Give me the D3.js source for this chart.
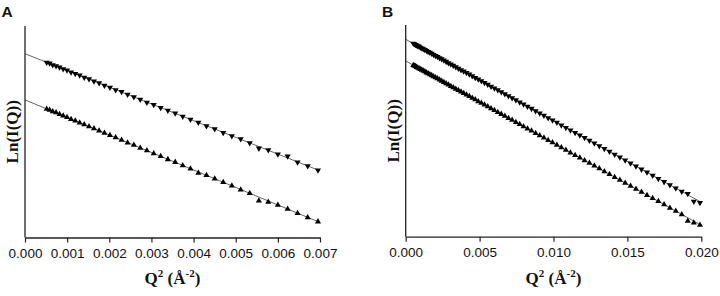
<!DOCTYPE html>
<html>
<head>
<meta charset="utf-8">
<script src="https://cdn.jsdelivr.net/npm/d3@7"></script>
<style>
  html, body { margin: 0; padding: 0; background: #fff; }
  svg { display: block; }
</style>
</head>
<body>
<svg id="chart" width="720" height="296"></svg>
<script>
// Q^2 values (Å^-2) of the measured points
const q2 = [0.000515, 0.000585, 0.000658, 0.000737, 0.000819, 0.000906, 0.000997, 0.001093, 0.001193, 0.001297,
  0.001406, 0.001519, 0.001637, 0.001759, 0.001885, 0.002016, 0.002151, 0.002291, 0.002434, 0.002583,
  0.002735, 0.002892, 0.003054, 0.003219, 0.003390, 0.003564, 0.003743, 0.003926, 0.004114, 0.004306,
  0.004502, 0.004703, 0.004908, 0.005118, 0.005332, 0.005550, 0.005773, 0.006000, 0.006232, 0.006467,
  0.006708, 0.006952, 0.007201, 0.007455, 0.007712, 0.007974, 0.008241, 0.008512, 0.008787, 0.009067,
  0.009351, 0.009639, 0.009932, 0.010229, 0.010531, 0.010837, 0.011147, 0.011462, 0.011781, 0.012104,
  0.012432, 0.012764, 0.013101, 0.013442, 0.013788, 0.014137, 0.014491, 0.014850, 0.015213, 0.015580,
  0.015952, 0.016328, 0.016708, 0.017093, 0.017482, 0.017876, 0.018274, 0.018676, 0.019083, 0.019494,
  0.019909];

// Panel A: Ln(I(Q)) (arbitrary offset units), first 42 points
const lnA_upper = [8.27, 8.23, 8.15, 8.10, 8.04, 7.96, 7.90, 7.81, 7.74, 7.66,
  7.56, 7.49, 7.38, 7.30, 7.18, 7.09, 6.97, 6.88, 6.75, 6.64,
  6.52, 6.38, 6.27, 6.13, 6.00, 5.87, 5.72, 5.57, 5.43, 5.27,
  5.13, 4.95, 4.80, 4.65, 4.46, 4.21, 4.13, 3.93, 3.84, 3.56,
  3.38, 3.18];
const lnA_lower = [6.07, 6.02, 5.95, 5.90, 5.82, 5.75, 5.68, 5.59, 5.52, 5.42,
  5.34, 5.24, 5.15, 5.04, 4.94, 4.83, 4.72, 4.61, 4.48, 4.37,
  4.23, 4.11, 3.97, 3.84, 3.69, 3.56, 3.40, 3.25, 3.05, 2.94,
  2.77, 2.61, 2.44, 2.26, 2.09, 1.74, 1.68, 1.53, 1.35, 1.15,
  0.95, 0.75];

// Panel B: Ln(I(Q)), all 81 points
const lnB_upper = [9.13, 9.10, 9.07, 9.04, 9.01, 8.98, 8.94, 8.90, 8.87, 8.83,
  8.78, 8.74, 8.70, 8.65, 8.60, 8.55, 8.50, 8.44, 8.39, 8.33,
  8.27, 8.21, 8.15, 8.09, 8.02, 7.95, 7.88, 7.81, 7.74, 7.67,
  7.59, 7.51, 7.44, 7.35, 7.27, 7.19, 7.10, 7.01, 6.93, 6.83,
  6.74, 6.65, 6.55, 6.46, 6.35, 6.26, 6.15, 6.05, 5.94, 5.83,
  5.73, 5.61, 5.50, 5.39, 5.27, 5.15, 5.03, 4.91, 4.79, 4.67,
  4.54, 4.41, 4.28, 4.15, 4.02, 3.88, 3.75, 3.61, 3.47, 3.33,
  3.18, 3.04, 2.89, 2.74, 2.59, 2.44, 2.29, 2.13, 2.03, 1.66,
  1.60];
const lnB_lower = [8.10, 8.07, 8.05, 8.01, 7.98, 7.95, 7.91, 7.88, 7.84, 7.80,
  7.75, 7.71, 7.66, 7.62, 7.57, 7.52, 7.47, 7.41, 7.36, 7.30,
  7.24, 7.18, 7.11, 7.05, 6.98, 6.92, 6.85, 6.78, 6.70, 6.63,
  6.55, 6.48, 6.39, 6.31, 6.23, 6.15, 6.06, 5.97, 5.88, 5.79,
  5.70, 5.60, 5.51, 5.41, 5.31, 5.21, 5.10, 5.00, 4.89, 4.78,
  4.67, 4.56, 4.45, 4.33, 4.21, 4.10, 3.97, 3.85, 3.73, 3.60,
  3.48, 3.35, 3.22, 3.08, 2.95, 2.81, 2.68, 2.54, 2.40, 2.25,
  2.11, 1.96, 1.82, 1.67, 1.52, 1.36, 1.21, 1.05, 0.74, 0.66,
  0.55];

// Guinier fit lines: intercepts and slopes
const fitIntercepts = { A_upper: 8.68, A_lower: 6.50, B_upper: 9.325, B_lower: 8.30 };
const fitSlopes = { A_upper: -790, A_lower: -827, B_upper: -385, B_lower: -388 };

// Tick values
const ticksA = [0.000, 0.001, 0.002, 0.003, 0.004, 0.005, 0.006, 0.007];
const ticksB = [0.000, 0.005, 0.010, 0.015, 0.020];

const panelLabels = ["A", "B"];
const yTitle = "Ln(I(Q))";

const svg = d3.select("#chart");

const panels = [
  { label: panelLabels[0], xMax: 0.007, ticks: ticksA, x0: 25, x1: 320, yb: 237.5, yt: 25.8, top: 26,
    labelX: 1.5, ytX: 17.5,
    series: [
      { vals: lnA_upper, fit: "A_upper", down: true },
      { vals: lnA_lower, fit: "A_lower", down: false }
    ] },
  { label: panelLabels[1], xMax: 0.020, ticks: ticksB, x0: 405.7, x1: 701.3, yb: 236.7, yt: 25, top: 25,
    labelX: 382, ytX: 398.5,
    series: [
      { vals: lnB_upper, fit: "B_upper", down: true },
      { vals: lnB_lower, fit: "B_lower", down: false }
    ] }
];

const tri = d3.symbol().type(d3.symbolTriangle).size(16);

panels.forEach(p => {
  const x = d3.scaleLinear().domain([0, p.xMax]).range([p.x0, p.x1]);
  const y = d3.scaleLinear().domain([0, 10]).range([p.yb, p.yt]);
  const g = svg.append("g");

  // panel letter
  g.append("text").attr("x", p.labelX).attr("y", 16.5)
    .attr("font-family", "Liberation Sans, Arial, sans-serif")
    .attr("font-weight", "bold").attr("font-size", 15.5).attr("fill", "#111")
    .text(p.label);

  // fit lines
  p.series.forEach(s => {
    const a = fitIntercepts[s.fit], b = fitSlopes[s.fit];
    g.append("line")
      .attr("x1", x(0)).attr("y1", y(a))
      .attr("x2", x(p.xMax)).attr("y2", y(a + b * p.xMax))
      .attr("stroke", "#555").attr("stroke-width", 0.9);
  });

  // markers
  p.series.forEach(s => {
    g.append("g").selectAll("path")
      .data(s.vals.map((v, i) => [q2[i], v]))
      .join("path")
      .attr("d", tri)
      .attr("transform", d => `translate(${x(d[0])},${y(d[1])})` + (s.down ? " rotate(180)" : ""))
      .attr("fill", "#000");
  });

  // x axis
  const xAxis = d3.axisBottom(x).tickValues(p.ticks).tickFormat(d3.format(".3f"))
    .tickSize(5).tickSizeOuter(0).tickPadding(6);
  const ax = g.append("g").attr("transform", `translate(0,${p.yb})`).call(xAxis);
  ax.select(".domain").attr("stroke", "#222").attr("stroke-width", 1.3);
  ax.selectAll(".tick line").attr("stroke", "#222").attr("stroke-width", 1.2);
  ax.selectAll(".tick text").attr("font-family", "Liberation Sans, Arial, sans-serif")
    .attr("font-size", 13.5).attr("fill", "#111");

  // y axis (no ticks)
  g.append("line").attr("x1", p.x0).attr("x2", p.x0).attr("y1", p.top).attr("y2", p.yb)
    .attr("stroke", "#222").attr("stroke-width", 1.3);

  // x title
  const xt = g.append("text")
    .attr("x", (p.x0 + p.x1) / 2).attr("y", 284)
    .attr("text-anchor", "middle")
    .attr("font-family", "Liberation Serif, Times New Roman, serif")
    .attr("font-weight", "bold").attr("font-size", 17).attr("fill", "#111");
  xt.append("tspan").text("Q");
  xt.append("tspan").attr("font-size", 11).attr("dy", -7).text("2");
  xt.append("tspan").attr("dy", 7).text(" (Å");
  xt.append("tspan").attr("font-size", 11).attr("dy", -7).text("-2");
  xt.append("tspan").attr("dy", 7).text(")");

  // y title
  g.append("text")
    .attr("transform", `translate(${p.ytX},${(p.top + p.yb) / 2}) rotate(-90)`)
    .attr("text-anchor", "middle")
    .attr("font-family", "Liberation Serif, Times New Roman, serif")
    .attr("font-weight", "bold").attr("font-size", 17).attr("fill", "#111")
    .text(yTitle);
});
</script>
</body>
</html>
